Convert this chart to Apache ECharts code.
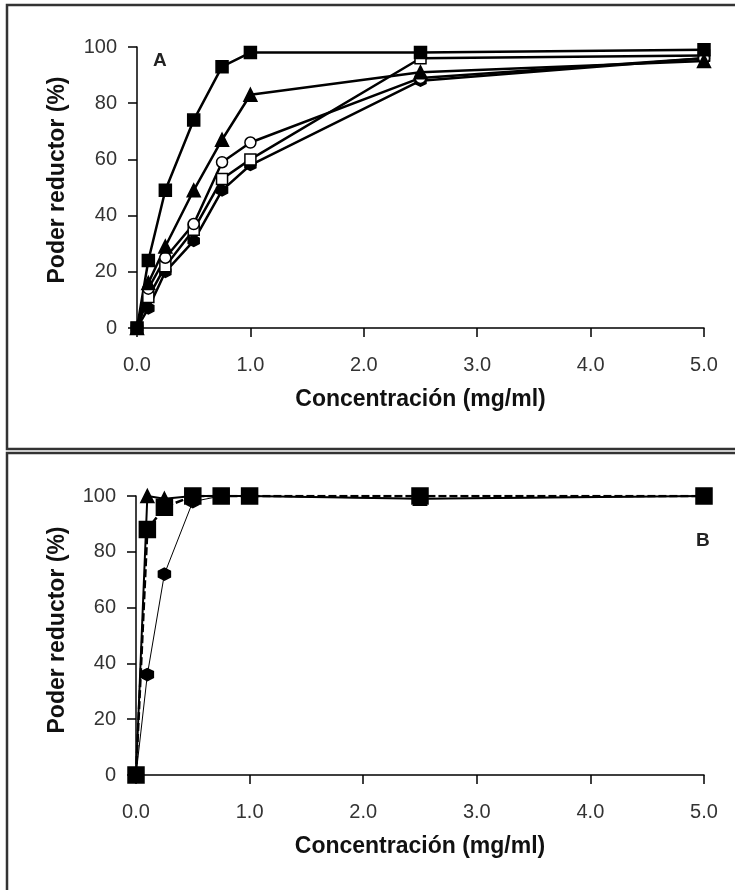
<!DOCTYPE html>
<html><head><meta charset="utf-8">
<script src="https://cdn.jsdelivr.net/npm/echarts@6/dist/echarts.min.js"></script>
<style>html,body{margin:0;padding:0;background:#fff}#c{width:735px;height:890px}</style>
</head><body><div id="c"></div>
<script>
// Concentrations (mg/ml)
const conc = [0, 0.1, 0.25, 0.5, 0.75, 1.0, 2.5, 5.0];
const xTicks = ['0.0','1.0','2.0','3.0','4.0','5.0'];
const yTicks = [0,20,40,60,80,100];

// Panel A
const A_fillSquare = [0, 24, 49, 74, 93, 98, 98, 99];
const A_fillTri    = [0, 16, 29, 49, 67, 83, 91, 95];
const A_openCirc   = [0, 14, 25, 37, 59, 66, 89, 96];
const A_openSquare = [0, 11, 22, 35, 53, 60, 96, 97];
const A_fillHex    = [0, 7, 20, 31, 49, 58, 88, 96];

// Panel B
const B_fillTri    = [0, 100, 99, 100, 100, 100, 99, 100];
const B_fillSquare = [0, 88, 96, 100, 100, 100, 100, 100];
const B_fillHex    = [0, 36, 72, 98, 100, 100, 99, 100];

const hexPath = 'path://M0,-10 L8.66,-5 L8.66,5 L0,10 L-8.66,5 L-8.66,-5 Z';
const pair = arr => conc.map((c,i)=>[c, arr[i]]);

const FONT = 'Liberation Sans, Arial, sans-serif';
function xAxis(gi){
  return {gridIndex:gi, type:'value', min:0, max:5, interval:1,
    name:'Concentración (mg/ml)', nameLocation:'middle', nameGap:60,
    nameTextStyle:{fontFamily:FONT, fontWeight:'bold', fontSize:23, color:'#111'},
    axisLine:{show:true, lineStyle:{color:'#000', width:1.5}},
    axisTick:{show:true, inside:false, length:9, lineStyle:{color:'#000', width:1.5}},
    axisLabel:{margin:27, fontFamily:FONT, fontSize:20, color:'#333',
      formatter:v=>xTicks[Math.round(v)]},
    splitLine:{show:false}};
}
function yAxis(gi){
  return {gridIndex:gi, type:'value', min:0, max:100, interval:20,
    axisLine:{show:true, lineStyle:{color:'#000', width:1.5}},
    axisTick:{show:true, inside:false, length:9, lineStyle:{color:'#000', width:1.5}},
    axisLabel:{margin:20, fontFamily:FONT, fontSize:20, color:'#333',
      formatter:v=>String(yTicks[Math.round(v/20)])},
    splitLine:{show:false}};
}
function ser(gi, data, symbol, size, fill, lw, ltype){
  return {type:'line', xAxisIndex:gi, yAxisIndex:gi, data:pair(data),
    symbol:symbol, symbolSize:size, showSymbol:true,
    lineStyle:{color:'#000', width:lw, type:ltype||'solid'},
    itemStyle:{color:fill, borderColor:'#000', borderWidth:1.5},
    emphasis:{disabled:true}, z:3};
}
function yTitle(cy){
  return {type:'text', x:58, y:cy, rotation:Math.PI/2,
    style:{text:'Poder reductor (%)', fontFamily:FONT, fontWeight:'bold', fontSize:23,
      fill:'#111', align:'center', verticalAlign:'middle'}};
}

const chart = echarts.init(document.getElementById('c'), null, {renderer:'canvas'});
chart.setOption({
  animation:false,
  backgroundColor:'#fff',
  graphic:[
    {type:'rect', shape:{x:7, y:5, width:740, height:444}, style:{fill:'none', stroke:'#333', lineWidth:2.5}, z:-1},
    {type:'rect', shape:{x:7, y:453, width:740, height:450}, style:{fill:'none', stroke:'#333', lineWidth:2.5}, z:-1},
    yTitle(180),
    yTitle(630),
    {type:'text', left:153, top:51, style:{text:'A', fontFamily:FONT, fontWeight:'bold', fontSize:19, fill:'#222'}},
    {type:'text', left:696, top:531, style:{text:'B', fontFamily:FONT, fontWeight:'bold', fontSize:19, fill:'#222'}}
  ],
  grid:[
    {left:137, right:31, top:47, height:281},
    {left:136, right:31, top:496, height:279}
  ],
  xAxis:[xAxis(0), xAxis(1)],
  yAxis:[yAxis(0), yAxis(1)],
  series:[
    ser(0, A_fillHex, hexPath, 11, '#000', 2.5),
    ser(0, A_openSquare, 'rect', 11, '#fff', 2.5),
    ser(0, A_openCirc, 'circle', 11, '#fff', 2.5),
    ser(0, A_fillTri, 'triangle', 13, '#000', 2.5),
    ser(0, A_fillSquare, 'rect', 12, '#000', 2.5),
    ser(1, B_fillHex, hexPath, 12, '#000', 1),
    ser(1, B_fillTri, 'triangle', 13, '#000', 2),
    ser(1, B_fillSquare, 'rect', 16, '#000', 2.5, [8,3])
  ]
});
</script></body></html>
